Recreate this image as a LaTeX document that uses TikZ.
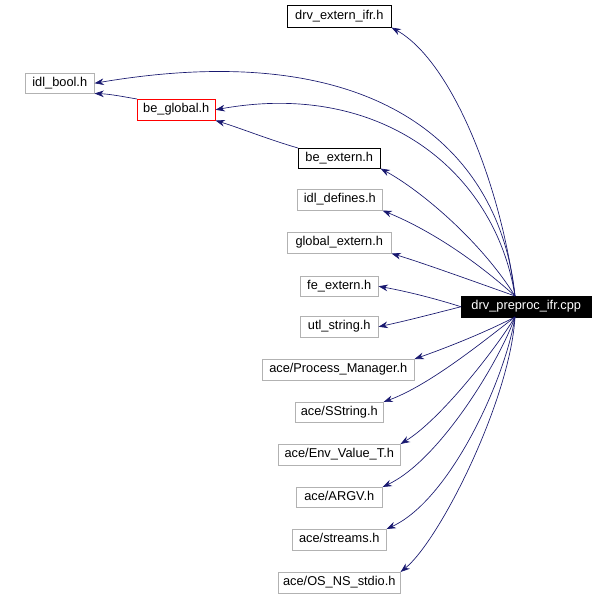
\documentclass[tikz,border=0pt]{standalone}
\usepackage{fontspec}
\setmainfont{Liberation Sans}
\usetikzlibrary{arrows.meta}
\begin{document}
\begin{tikzpicture}[x=0.75pt,y=-0.75pt,
  box/.style={draw=#1,fill=white,inner sep=0pt,anchor=north west},
  lbl/.style={font=\fontsize{9.6}{11}\selectfont,inner sep=0pt},
  edge/.style={draw={rgb,255:red,25;green,25;blue,112},-{Stealth[length=7pt,width=5pt]},line width=0.5pt}]
\fill[white] (0,0) rectangle (614,595);
\useasboundingbox (0,0) rectangle (614,595);
\newcommand\mybox[6]{\node[box=#6,minimum width=#4*0.75pt,minimum height=#5*0.75pt] (#1) at (#2,#3) {};\node[lbl] at (#1.center) {\strut\csname lbl#1\endcsname};}
\def\lbla{drv\_extern\_ifr.h}\def\lblb{idl\_bool.h}\def\lblc{be\_global.h}\def\lbld{be\_extern.h}
\def\lble{idl\_defines.h}\def\lblf{global\_extern.h}\def\lblg{fe\_extern.h}\def\lblh{utl\_string.h}
\def\lbli{ace/Process\_Manager.h}\def\lblj{ace/SString.h}\def\lblk{ace/Env\_Value\_T.h}
\def\lbll{ace/ARGV.h}\def\lblm{ace/streams.h}\def\lbln{ace/OS\_NS\_stdio.h}
\mybox{a}{287}{5}{104}{22}{black}
\mybox{b}{25}{73}{69}{20}{gray!60}
\mybox{c}{137}{99}{78}{21}{red}
\mybox{d}{298}{148}{82}{20}{black}
\mybox{e}{297}{189}{85}{21}{gray!60}
\mybox{f}{287}{232}{104}{21}{gray!60}
\mybox{g}{300}{276}{78}{20}{gray!60}
\mybox{h}{300}{316}{78}{21}{gray!60}
\mybox{i}{262}{359}{152}{21}{gray!60}
\mybox{j}{295}{402}{88}{20}{gray!60}
\mybox{k}{278}{444}{122}{21}{gray!60}
\mybox{l}{296}{487}{86}{20}{gray!60}
\mybox{m}{292}{529}{94}{21}{gray!60}
\mybox{n}{278}{572}{122}{21}{gray!60}
\node[box=black,fill=black,minimum width=130*0.75pt,minimum height=21*0.75pt] (cpp) at (461,296) {};
\node[lbl,text=white] at (cpp.center) {\strut drv\_preproc\_ifr.cpp};
\coordinate (s) at (515,296);
\coordinate (sb) at (515,317);
\draw[edge] (s) .. controls (500,180) and (450,60) .. (a.south east);
\draw[edge] (s) .. controls (500,150) and (380,35) .. (b.east);
\draw[edge] (s) .. controls (495,170) and (380,80) .. (c.east);
\draw[edge] (s) .. controls (480,240) and (420,190) .. (d.south east);
\draw[edge] (s) .. controls (475,260) and (430,230) .. (e.south east);
\draw[edge] (s) .. controls (470,280) and (420,262) .. (f.south east);
\draw[edge] (cpp.west) .. controls (440,300) and (410,292) .. (g.east);
\draw[edge] (cpp.west) .. controls (440,312) and (410,320) .. (h.east);
\draw[edge] (sb) .. controls (480,335) and (440,350) .. (i.north east);
\draw[edge] (sb) .. controls (485,340) and (430,385) .. (j.north east);
\draw[edge] (sb) .. controls (495,350) and (440,420) .. (k.north east);
\draw[edge] (sb) .. controls (500,360) and (440,460) .. (l.north east);
\draw[edge] (sb) .. controls (505,380) and (450,500) .. (m.north east);
\draw[edge] (sb) .. controls (510,400) and (440,540) .. (n.north east);
\draw[edge] (c.north west) .. controls (125,97) and (110,94) .. (b.south east);
\draw[edge] (d.north west) .. controls (270,140) and (240,128) .. (c.south east);
\end{tikzpicture}
\end{document}
